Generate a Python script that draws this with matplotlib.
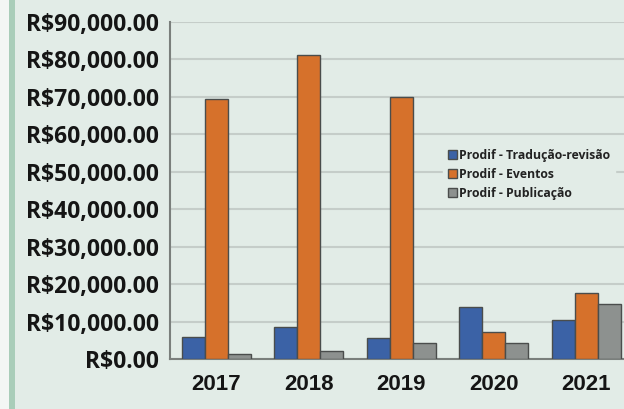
import matplotlib.pyplot as plt
import numpy as np
from matplotlib.patches import Rectangle

# Data
years = ["2017", "2018", "2019", "2020", "2021"]
traducao = [6000, 8600, 5500, 14000, 10300]
eventos = [69400, 81100, 69900, 7100, 17600]
publicacao = [1300, 2200, 4300, 4300, 14800]
series_names = ["Prodif - Tradução-revisão", "Prodif - Eventos", "Prodif - Publicação"]
colors = ["#3b62a6", "#d6712b", "#8d918f"]
yticks = np.arange(0, 90001, 10000)

bg = "#e2ece7"
fig = plt.figure(figsize=(6.24, 4.09), dpi=100, facecolor=bg)

# left page margin and green stripe
fig.patches.append(Rectangle((0, 0), 9 / 624, 1, transform=fig.transFigure,
                             facecolor="#f3f6f4", edgecolor="none", zorder=0))
fig.patches.append(Rectangle((9 / 624, 0), 6 / 624, 1, transform=fig.transFigure,
                             facecolor="#a9cdb9", edgecolor="none", zorder=0))

ax = fig.add_axes([170 / 624, 50 / 409, 462.5 / 624, 337 / 409])
ax.set_facecolor(bg)

x = np.arange(len(years))
w = 0.25
for i, (vals, name, col) in enumerate(zip([traducao, eventos, publicacao], series_names, colors)):
    ax.bar(x + (i - 1) * w, vals, width=w, color=col, edgecolor="#4a4d4c",
           linewidth=1.0, label=name, zorder=3)

ax.set_xlim(-0.5, len(years) - 0.5)
ax.set_ylim(0, 90000)
ax.set_yticks(yticks)
ax.set_yticklabels([f"R${v:,.2f}" for v in yticks], fontsize=16.5,
                   fontweight="bold", family="Open Sans", color="#151515")
ax.set_xticks(x)
ax.set_xticklabels(years, fontsize=16, fontweight="bold",
                   family="Liberation Sans", color="#151515")
ax.tick_params(axis="y", length=0, pad=8)
ax.tick_params(axis="x", length=0, pad=11)

ax.grid(axis="y", color="#c5cdc9", linewidth=1.5, zorder=0)
for s in ["top", "right"]:
    ax.spines[s].set_visible(False)
for s in ["left", "bottom"]:
    ax.spines[s].set_color("#7a7f7c")
    ax.spines[s].set_linewidth(1.5)

leg = ax.legend(loc="center left", bbox_to_anchor=(0.577, 0.548), frameon=True,
                facecolor=bg, edgecolor=bg, framealpha=1,
                prop={"family": "Open Sans", "weight": "bold", "size": 8.8},
                handlelength=0.74, handleheight=0.74, handletextpad=0.2,
                labelspacing=0.5, borderpad=0.4)
for t in leg.get_texts():
    t.set_color("#222222")

fig.savefig("out.png", dpi=100, facecolor=bg)
